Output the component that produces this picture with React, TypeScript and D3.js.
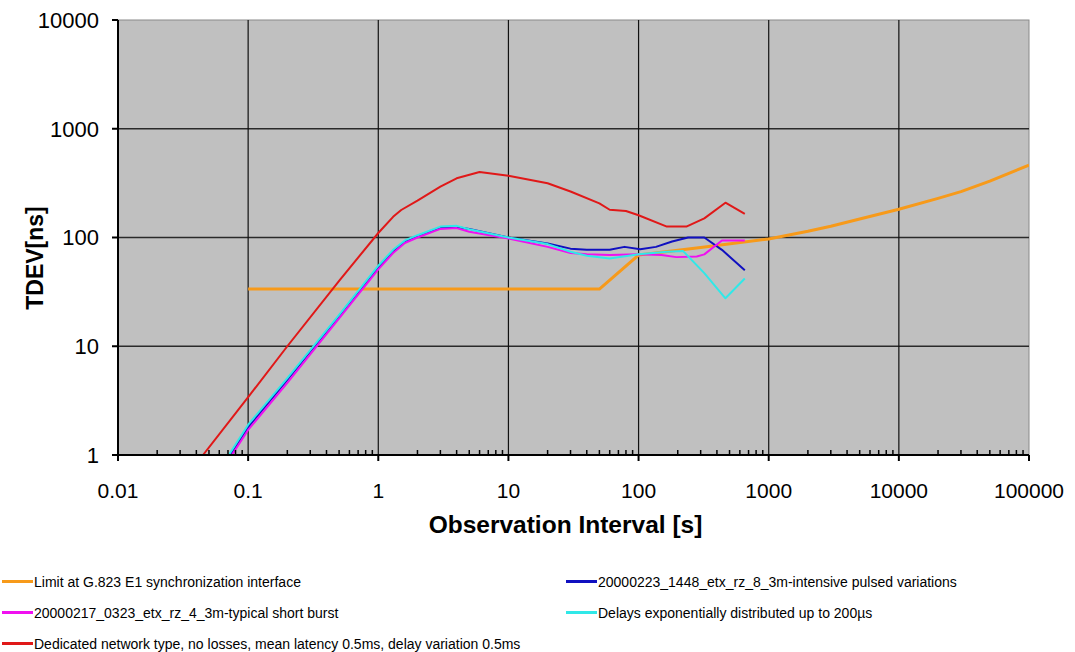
import React from 'react'
import * as d3 from 'd3'

// observation interval [s] and TDEV [ns]
const limitTau = [0.1, 50, 100, 300, 1000, 2000, 3000, 5000, 10000, 20000, 30000, 50000, 100000]
const limitVal = [33.6, 33.6, 69, 81, 97, 114, 127, 148, 182, 229, 264, 330, 464]

const pulsedTau = [0.073, 0.1, 0.2, 0.5, 1, 1.3, 1.6, 2, 3, 4, 5, 10, 20, 30, 40, 60, 78, 103, 136, 181, 240, 320, 437, 655]
const pulsedVal = [1, 1.8, 4.9, 19, 53, 75, 92, 103, 122, 125, 120, 100, 88, 79, 77, 77, 82, 78, 82, 92, 100, 100, 77, 50]

const burstTau = [0.075, 0.1, 0.2, 0.5, 1, 1.3, 1.6, 2, 3, 4, 5, 10, 20, 30, 40, 60, 100, 150, 195, 280, 320, 437, 655]
const burstVal = [1, 1.7, 4.6, 18, 51, 72, 89, 100, 120, 122, 113, 98, 82, 72, 70, 69, 70, 69, 66, 67, 70, 94, 94]

const expTau = [0.071, 0.1, 0.2, 0.5, 1, 1.3, 1.6, 2, 3, 4, 5, 10, 20, 30, 40, 60, 100, 165, 220, 320, 465, 655]
const expVal = [1, 1.9, 5.1, 19.4, 55, 77, 94, 105, 126, 128, 119, 100, 87, 74, 68, 64, 70, 74, 75, 47, 27.6, 42]

const dedicatedTau = [0.045, 0.1, 0.2, 0.5, 1, 1.3, 1.5, 2, 3, 4, 6, 10, 20, 30, 50, 60, 80, 100, 165, 233, 320, 465, 655]
const dedicatedVal = [1, 3.4, 10, 40, 110, 155, 179, 218, 293, 350, 400, 370, 315, 265, 206, 180, 175, 160, 126, 126, 150, 209, 165]

const xTicks = [0.01, 0.1, 1, 10, 100, 1000, 10000, 100000]
const xTickLabels = ['0.01', '0.1', '1', '10', '100', '1000', '10000', '100000']
const yTicks = [1, 10, 100, 1000, 10000]
const yTickLabels = ['1', '10', '100', '1000', '10000']

const series = [
  { name: 'Limit at G.823 E1 synchronization interface', tau: limitTau, val: limitVal, color: '#F79A1A', width: 3 },
  { name: '20000223_1448_etx_rz_8_3m-intensive pulsed variations', tau: pulsedTau, val: pulsedVal, color: '#1010C0', width: 2 },
  { name: '20000217_0323_etx_rz_4_3m-typical short burst', tau: burstTau, val: burstVal, color: '#F010F0', width: 2 },
  { name: 'Delays exponentially distributed up to 200µs', tau: expTau, val: expVal, color: '#30E8E8', width: 2 },
  { name: 'Dedicated network type, no losses, mean latency 0.5ms, delay variation 0.5ms', tau: dedicatedTau, val: dedicatedVal, color: '#E01818', width: 2 },
]

// draw order: limit, dedicated, pulsed, burst, exp on top
const drawOrder = [0, 4, 1, 2, 3]

// legend grid: column, row
const legendPos = [[0, 0], [1, 0], [0, 1], [1, 1], [0, 2]]

const W = 1075
const H = 652
const margin = { top: 20, right: 46, bottom: 197, left: 118 }

export default function App() {
  const width = W - margin.left - margin.right
  const height = H - margin.top - margin.bottom

  const x = d3.scaleLog().domain([0.01, 100000]).range([0, width])
  const y = d3.scaleLog().domain([1, 10000]).range([height, 0])

  const line = d3.line<[number, number]>()
    .x(d => x(d[0]))
    .y(d => y(d[1]))

  const minor: number[] = []
  for (let e = -2; e < 5; e++) {
    for (let m = 2; m <= 9; m++) minor.push(m * Math.pow(10, e))
  }

  const font = "'Liberation Sans', Arial, sans-serif"

  return (
    <svg width={W} height={H} style={{ position: 'absolute', left: 0, top: 0, background: '#fff' }}>
      <defs>
        <clipPath id="plot">
          <rect x={0} y={0} width={width} height={height} />
        </clipPath>
      </defs>
      <g transform={`translate(${margin.left},${margin.top})`} fontFamily={font}>
        <rect x={0} y={0} width={width} height={height} fill="#C0C0C0" stroke="#8a8a8a" strokeWidth={1} />

        {/* grid */}
        {yTicks.slice(1, -1).map(t => (
          <line key={'gy' + t} x1={0} x2={width} y1={y(t)} y2={y(t)} stroke="#2a2a2a" strokeWidth={1.5} />
        ))}
        {xTicks.slice(1, -1).map(t => (
          <line key={'gx' + t} x1={x(t)} x2={x(t)} y1={0} y2={height} stroke="#111" strokeWidth={1.2} />
        ))}

        {/* series */}
        <g clipPath="url(#plot)">
          {drawOrder.map(i => {
            const s = series[i]
            const pts = s.tau.map((t, k) => [t, s.val[k]] as [number, number])
            return <path key={s.name} d={line(pts) || ''} fill="none" stroke={s.color} strokeWidth={s.width} strokeLinejoin="round" />
          })}
        </g>

        {/* y axis */}
        <line x1={0} x2={0} y1={0} y2={height} stroke="#000" strokeWidth={2} />
        {yTicks.map((t, i) => (
          <g key={'yt' + t}>
            <line x1={-6} x2={0} y1={y(t)} y2={y(t)} stroke="#000" strokeWidth={2} />
            <text x={-19} y={y(t)} dy="0.36em" textAnchor="end" fontSize={22} fill="#000">{yTickLabels[i]}</text>
          </g>
        ))}

        {/* x axis */}
        <line x1={0} x2={width} y1={height} y2={height} stroke="#000" strokeWidth={2} />
        {minor.map(t => (
          <line key={'mx' + t} x1={x(t)} x2={x(t)} y1={height - 5} y2={height} stroke="#000" strokeWidth={1.5} />
        ))}
        {xTicks.map((t, i) => (
          <g key={'xt' + t}>
            <line x1={x(t)} x2={x(t)} y1={height} y2={height + 6} stroke="#000" strokeWidth={2} />
            <text x={x(t)} y={height + 43} textAnchor="middle" fontSize={21} fill="#000">{xTickLabels[i]}</text>
          </g>
        ))}

        <text x={width / 2 - 8} y={height + 78} textAnchor="middle" fontSize={24.5} fontWeight="bold" fill="#000">Observation Interval [s]</text>
        <text transform={`translate(${-75},${238}) rotate(-90)`} textAnchor="middle" fontSize={23} fontWeight="bold" fill="#000">TDEV[ns]</text>
      </g>

      {/* legend */}
      <g fontFamily={font}>
        {series.map((s, i) => {
          const [c, r] = legendPos[i]
          const lx = c === 0 ? 2 : 566
          const ly = 581.5 + r * 31
          return (
            <g key={'lg' + i}>
              <line x1={lx} x2={lx + 31} y1={ly} y2={ly} stroke={s.color} strokeWidth={3} />
              <text x={lx + 32} y={ly} dy="0.36em" fontSize={14} fill="#000">{s.name}</text>
            </g>
          )
        })}
      </g>
    </svg>
  )
}
